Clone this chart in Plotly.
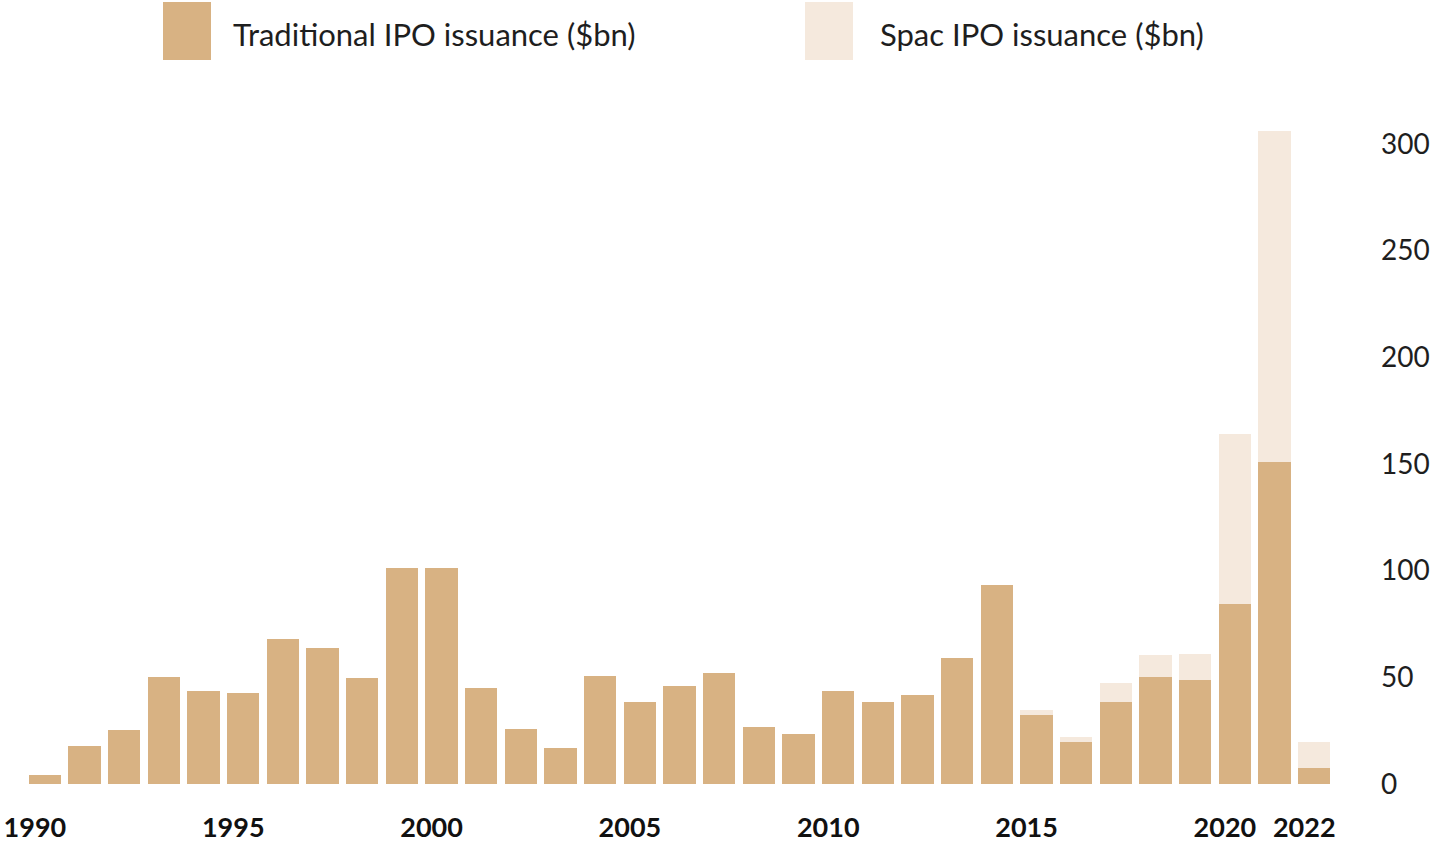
import plotly.graph_objects as go

years = list(range(1990, 2023))
traditional = [4, 18, 25.5, 50, 43.5, 42.5, 68, 63.5, 49.5, 101.4, 101, 45,
               26, 17, 50.5, 38.3, 45.8, 51.9, 26.6, 23.4, 43.5, 38.3, 41.6,
               59, 93.2, 32.3, 19.7, 38.4, 50.1, 48.7, 84.3, 150.8, 7.5]
spac = [0, 0, 0, 0, 0, 0, 0, 0, 0, 0, 0, 0,
        0, 0, 0, 0, 0, 0, 0, 0, 0, 0, 0,
        0, 0, 2.3, 2.3, 9, 10.3, 12.2, 79.7, 155, 12.2]
x_tick_years = [1990, 1995, 2000, 2005, 2010, 2015, 2020, 2022]
x_tick_labels = [str(y) for y in x_tick_years]
y_tick_vals = [0, 50, 100, 150, 200, 250, 300]
series_names = ["Traditional IPO issuance ($bn)", "Spac IPO issuance ($bn)"]

trad_color = "#D8B283"
spac_color = "#F5E9DD"
text_color = "#1e1e1e"
font_family = "Lato, 'Open Sans', sans-serif"

fig = go.Figure()
fig.add_trace(go.Bar(x=years, y=traditional, name=series_names[0],
                     marker=dict(color=trad_color, line=dict(width=0)),
                     showlegend=False))
fig.add_trace(go.Bar(x=years, y=spac, name=series_names[1],
                     marker=dict(color=spac_color, line=dict(width=0)),
                     showlegend=False))

fig.update_layout(
    barmode="stack",
    bargap=0.19,
    width=1434, height=843,
    margin=dict(l=25, r=100, t=101, b=59),
    paper_bgcolor="white", plot_bgcolor="white",
    font=dict(family=font_family, color=text_color),
    xaxis=dict(range=[1989.5, 2022.5], automargin=False,
               tickvals=[y - 0.25 for y in x_tick_years],
               ticktext=x_tick_labels,
               showgrid=False, zeroline=False, showline=False, ticks="",
               ticklabelstandoff=25,
               tickfont=dict(size=27, family=font_family, color="#111", weight="bold")),
    yaxis=dict(range=[0, 320], side="right", automargin=False,
               tickvals=y_tick_vals, ticktext=[str(v) for v in y_tick_vals],
               showgrid=False, zeroline=False, showline=False, ticks="",
               ticklabelstandoff=46,
               tickfont=dict(size=28, family=font_family, color=text_color)),
)

# custom legend
legend_items = [(163, trad_color, series_names[0], 231),
                (805, spac_color, series_names[1], 878)]
for sx, col, name, tx in legend_items:
    fig.add_shape(type="rect", xref="paper", yref="paper",
                  x0=(sx - 25) / 1309, x1=(sx + 48 - 25) / 1309,
                  y0=(784 - 60) / 683, y1=(784 - 2) / 683,
                  fillcolor=col, line=dict(width=0))
    fig.add_annotation(xref="paper", yref="paper",
                       x=(tx - 25) / 1309, y=(784 - 34) / 683,
                       xanchor="left", yanchor="middle", showarrow=False,
                       text=name, font=dict(size=31, family=font_family, color=text_color))

fig.write_html("out.html",
               config={"displayModeBar": False},
               post_script="document.body.style.margin='0';document.body.style.overflow='hidden';")
